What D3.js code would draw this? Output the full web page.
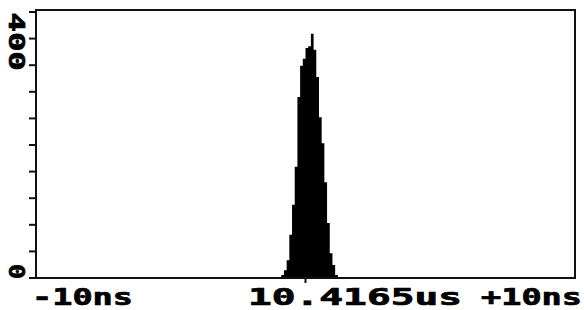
<!DOCTYPE html>
<html>
<head>
<meta charset="utf-8">
<script src="https://cdn.jsdelivr.net/npm/d3@7"></script>
<style>
  html, body { margin: 0; padding: 0; background: #fff; }
  svg { display: block; }
  text { font-family: "DejaVu Sans Mono", "Liberation Mono", monospace; font-weight: bold; fill: #000; stroke: #000; stroke-width: 0.7px; }
</style>
</head>
<body>
<script>
// ---- data ----
const binStartNs = -0.9;          // left edge of first bin, ns relative to center
const binWidthNs = 0.1;           // bin width, ns
const counts = [5, 13, 30, 73, 124, 188, 306, 359, 371, 389, 392, 413, 386, 340, 272, 228, 162, 93, 42, 22, 5];
const xDomainNs = [-10, 10];
const xTickLabels = ["-10ns", "10.4165us", "+10ns"];
const yMax = 450;
const yTickStep = 45;
const yTickLabels = ["0", "400"];

// ---- layout ----
const W = 584, H = 310;
const mLeft = 36, mRight = 575, mTop = 10, mBottom = 278, yTopPx = 12;

const svg = d3.select("body").append("svg").attr("width", W).attr("height", H);

const x = d3.scaleLinear().domain(xDomainNs).range([mLeft, mRight]);
const y = d3.scaleLinear().domain([0, yMax]).range([mBottom, yTopPx]);

// histogram as a stepped area
const pts = counts.map((c, i) => ({ x: binStartNs + i * binWidthNs, c }));
pts.push({ x: binStartNs + counts.length * binWidthNs, c: counts[counts.length - 1] });
const area = d3.area()
  .x(d => x(d.x))
  .y0(y(0))
  .y1(d => y(d.c))
  .curve(d3.curveStepAfter);
svg.append("path").datum(pts).attr("d", area).attr("fill", "#000");

// frame
svg.append("rect")
  .attr("x", mLeft).attr("y", mTop)
  .attr("width", mRight - mLeft).attr("height", mBottom - mTop)
  .attr("fill", "none").attr("stroke", "#111").attr("stroke-width", 2);

// y ticks
const yTicks = d3.range(0, yMax + 0.01, yTickStep);
svg.append("g").selectAll("line").data(yTicks).join("line")
  .attr("x1", mLeft - 7).attr("x2", mLeft)
  .attr("y1", d => y(d)).attr("y2", d => y(d))
  .attr("stroke", "#111").attr("stroke-width", 2);

// center x tick
svg.append("line")
  .attr("x1", x(0)).attr("x2", x(0))
  .attr("y1", mBottom).attr("y2", mBottom + 5)
  .attr("stroke", "#111").attr("stroke-width", 2);

// y labels (rotated, reading top to bottom)
svg.append("text")
  .attr("transform", `translate(9,${y(400) - 29}) rotate(90)`)
  .attr("font-size", 22)
  .attr("textLength", 58).attr("lengthAdjust", "spacingAndGlyphs")
  .text(yTickLabels[1]);
svg.append("text")
  .attr("transform", `translate(9,${y(0) - 14}) rotate(90)`)
  .attr("font-size", 22)
  .attr("textLength", 15).attr("lengthAdjust", "spacingAndGlyphs")
  .text(yTickLabels[0]);

// x labels
const xl = [
  { t: xTickLabels[0], x0: 32, len: 101 },
  { t: xTickLabels[1], x0: 248, len: 214 },
  { t: xTickLabels[2], x0: 481, len: 101 }
];
svg.append("g").selectAll("text").data(xl).join("text")
  .attr("x", d => d.x0).attr("y", 305)
  .attr("font-size", 23)
  .attr("textLength", d => d.len).attr("lengthAdjust", "spacingAndGlyphs")
  .text(d => d.t);
</script>
</body>
</html>
